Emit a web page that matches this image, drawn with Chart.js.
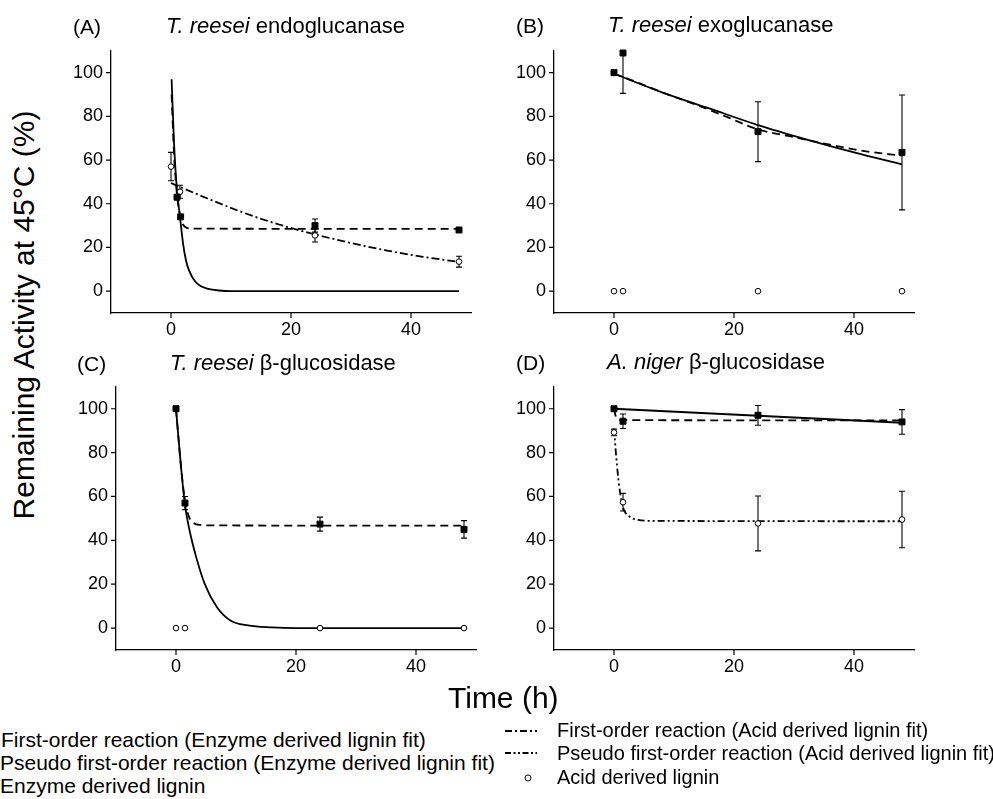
<!DOCTYPE html>
<html><head><meta charset="utf-8">
<script src="https://cdn.jsdelivr.net/npm/chart.js@4.4.0/dist/chart.umd.min.js"></script>
<style>
html,body{margin:0;padding:0;background:#fff;}
#wrap{position:relative;width:993px;height:799px;overflow:hidden;background:#fff;font-family:"Liberation Sans",Arial,sans-serif;color:#000;}
canvas{position:absolute;}
.t{position:absolute;white-space:nowrap;line-height:1;}
</style></head><body>
<div id="wrap">
  <canvas id="cA"></canvas><canvas id="cB"></canvas><canvas id="cC"></canvas><canvas id="cD"></canvas>
  <div class="t" style="left:73px;top:16px;font-size:21px">(A)</div>
  <div class="t" style="left:166px;top:15px;font-size:22px"><i>T. reesei</i> endoglucanase</div>
  <div class="t" style="left:516px;top:15px;font-size:21px">(B)</div>
  <div class="t" style="left:608px;top:14px;font-size:22px"><i>T. reesei</i> exoglucanase</div>
  <div class="t" style="left:77px;top:353px;font-size:21px">(C)</div>
  <div class="t" style="left:170px;top:352px;font-size:22px"><i>T. reesei</i> β-glucosidase</div>
  <div class="t" style="left:516px;top:352px;font-size:21px">(D)</div>
  <div class="t" style="left:607px;top:351px;font-size:22px"><i>A. niger</i> β-glucosidase</div>
  <div class="t" style="left:-186px;top:300px;width:420px;text-align:center;font-size:30px;transform:rotate(-90deg);">Remaining Activity at 45°C (%)</div>
  <div class="t" style="left:448px;top:683px;font-size:30px">Time (h)</div>
  <div class="t" style="left:1px;top:729px;font-size:21px">First-order reaction (Enzyme derived lignin fit)</div>
  <div class="t" style="left:0px;top:752px;font-size:21px">Pseudo first-order reaction (Enzyme derived lignin fit)</div>
  <div class="t" style="left:0px;top:775px;font-size:21px">Enzyme derived lignin</div>
  <svg style="position:absolute;left:500px;top:720px" width="50" height="70">
    <line x1="5" y1="11" x2="37" y2="11" stroke="#000" stroke-width="2" stroke-dasharray="7 3 2 3"/>
    <line x1="5" y1="33" x2="37" y2="33" stroke="#000" stroke-width="2" stroke-dasharray="6 2.5 2 2.5 2 2.5"/>
    <circle cx="28" cy="58" r="3" fill="#fff" stroke="#000" stroke-width="1"/>
  </svg>
  <div class="t" style="left:557px;top:720px;font-size:20px">First-order reaction (Acid derived lignin fit)</div>
  <div class="t" style="left:557px;top:743px;font-size:20px">Pseudo first-order reaction (Acid derived lignin fit)</div>
  <div class="t" style="left:557px;top:767px;font-size:20px">Acid derived lignin</div>
</div>
<script>
// ---------------- data ----------------
const sampleTimes = [0, 1.5, 24, 48];
// Panel A: T. reesei endoglucanase
const aEnzTimes = [1.0, 1.6, 24, 48];
const aEnzValues = [43, 34, 30, 28];
const aEnzErrors = [0, 0, 3, 1];
const aAcidValues = [57, 45.5, 25.5, 13.5];
const aAcidErrors = [6.5, 3, 3, 2.5];
const aFirstEnzT = [0.1, 0.5, 1, 1.5, 2, 2.5, 3, 4, 5, 6, 8, 10, 48];
const aFirstEnzV = [97, 68, 46, 34, 22, 14, 9.5, 4.5, 2.2, 1.2, 0.3, 0, 0];
const aPseudoEnzT = [0.1, 0.5, 1, 1.5, 2, 2.6, 4, 48];
const aPseudoEnzV = [90, 63, 44, 35, 30.5, 29, 28.6, 28.5];
const aFirstAcidT = [0, 1.5, 6, 12, 18, 24, 30, 36, 42, 48];
const aFirstAcidV = [49.5, 47.7, 42.5, 36, 30.5, 26, 22, 18.6, 15.7, 13.4];
// Panel B: T. reesei exoglucanase
const bEnzValues = [100, 109, 73, 63.5];
const bEnzErrors = [0, 18.5, 13.7, 26.3];
const bAcidValues = [0, 0, 0, 0];
const bFirstEnzT = [0, 8, 16, 24, 32, 40, 48];
const bFirstEnzV = [99.5, 91, 83.5, 76, 69.5, 63.5, 58];
const bPseudoEnzT = [0, 3, 8, 14, 19, 24, 30, 36, 42, 48];
const bPseudoEnzV = [99.5, 96.5, 91, 85, 79.5, 74, 70.5, 67, 64, 62];
// Panel C: T. reesei beta-glucosidase
const cEnzValues = [100, 57, 47.4, 45];
const cEnzErrors = [0, 3, 3.2, 4];
const cAcidValues = [0, 0, 0, 0];
const cFirstEnzT = [0, 0.75, 1.5, 2.3, 3.4, 4.8, 6.8, 9, 12, 16, 20, 48];
const cFirstEnzV = [100, 76, 56, 44, 32, 20, 9.6, 3.6, 1.2, 0.3, 0, 0];
const cPseudoEnzT = [0, 0.75, 1.5, 2.2, 3, 4, 6, 48];
const cPseudoEnzV = [100, 76, 58, 50.5, 47.8, 47, 46.8, 46.7];
// Panel D: A. niger beta-glucosidase
const dEnzValues = [100, 94.3, 97, 94];
const dEnzErrors = [0, 3.3, 4.5, 5.6];
const dAcidValues = [89.2, 57.4, 47.7, 49.5];
const dAcidErrors = [1.5, 4, 12.5, 12.9];
const dFirstEnzT = [0, 24, 48];
const dFirstEnzV = [100, 96.8, 93.6];
const dPseudoEnzT = [0, 0.3, 0.7, 1.5, 48];
const dPseudoEnzV = [100, 96.5, 95.1, 94.8, 94.7];
const dPseudoAcidT = [0, 0.5, 1, 1.5, 2.5, 4, 6, 48];
const dPseudoAcidV = [91, 74, 62, 55, 51, 49.3, 48.9, 48.7];
// axis ranges / ticks
const xRange = [-10, 50];
const yRange = [-10, 110];
const xLabelled = [0, 20, 40];
const yLabelled = [0, 20, 40, 60, 80, 100];

// ---------------- helpers ----------------
const pts = (ts, vs) => ts.map((t, i) => ({x: t, y: vs[i]}));
const FONT = '"Liberation Sans", Arial, sans-serif';
const DASH = [8, 5];
const DASHDOT = [8, 3, 2, 3];
const DASHDOTDOT = [7, 3, 2, 3, 2, 3];

function curve(ts, vs, dash) {
  return {type: 'line', data: pts(ts, vs), borderColor: '#000', borderWidth: 1.8, borderDash: dash || [],
    pointRadius: 0, fill: false, cubicInterpolationMode: 'monotone', order: 2, clip: 0};
}
function squares(ts, vs, errs) {
  return {type: 'scatter', data: pts(ts, vs), errorBars: errs || null, pointStyle: 'rect', pointRadius: 4.2,
    backgroundColor: '#000', borderColor: '#000', borderWidth: 1, order: 0, clip: 6};
}
function circles(ts, vs, errs) {
  return {type: 'scatter', data: pts(ts, vs), errorBars: errs || null, pointStyle: 'circle', pointRadius: 2.8,
    backgroundColor: '#fff', borderColor: '#000', borderWidth: 1, order: 1, clip: 6};
}

const axisTicks = {
  id: 'axisTicks',
  afterDraw(chart) {
    const {ctx, chartArea: a} = chart;
    const xs = chart.scales.x, ys = chart.scales.y;
    ctx.save();
    ctx.strokeStyle = '#000'; ctx.lineWidth = 1.2;
    ctx.beginPath();
    xs.ticks.forEach(t => {
      const px = xs.getPixelForValue(t.value);
      const len = xLabelled.includes(t.value) ? 5 : 3;
      ctx.moveTo(px, a.bottom); ctx.lineTo(px, a.bottom + len);
    });
    ys.ticks.forEach(t => {
      const py = ys.getPixelForValue(t.value);
      const len = yLabelled.includes(t.value) ? 5 : 3;
      ctx.moveTo(a.left, py); ctx.lineTo(a.left - len, py);
    });
    ctx.stroke();
    ctx.restore();
  }
};
const errorBars = {
  id: 'errorBars',
  beforeDatasetsDraw(chart) {
    const {ctx, chartArea: a} = chart;
    const ys = chart.scales.y;
    ctx.save();
    ctx.beginPath(); ctx.rect(a.left, a.top, a.right - a.left, a.bottom - a.top); ctx.clip();
    ctx.strokeStyle = '#000'; ctx.lineWidth = 1.1;
    chart.data.datasets.forEach((ds, i) => {
      if (!ds.errorBars) return;
      const meta = chart.getDatasetMeta(i);
      meta.data.forEach((el, j) => {
        const e = ds.errorBars[j];
        if (!e) return;
        const v = ds.data[j].y;
        const y1 = ys.getPixelForValue(v + e), y2 = ys.getPixelForValue(v - e);
        ctx.beginPath();
        ctx.moveTo(el.x, y1); ctx.lineTo(el.x, y2);
        ctx.moveTo(el.x - 3, y1); ctx.lineTo(el.x + 3, y1);
        ctx.moveTo(el.x - 3, y2); ctx.lineTo(el.x + 3, y2);
        ctx.stroke();
      });
    });
    ctx.restore();
  }
};

const YW = 70, XH = 45, PT = 15, PR = 15;
function makePanel(id, left, top, w, h, datasets) {
  const cv = document.getElementById(id);
  cv.width = YW + w + PR; cv.height = PT + h + XH;
  cv.style.left = (left - YW) + 'px'; cv.style.top = (top - PT) + 'px';
  cv.style.width = cv.width + 'px'; cv.style.height = cv.height + 'px';
  new Chart(cv, {
    type: 'scatter',
    data: {datasets},
    options: {
      responsive: false, animation: false, devicePixelRatio: 1,
      layout: {padding: {top: PT, right: PR, left: 0, bottom: 0}},
      plugins: {legend: {display: false}, tooltip: {enabled: false}},
      scales: {
        x: {type: 'linear', min: xRange[0], max: xRange[1],
          afterFit: s => { s.height = XH; },
          grid: {display: false, drawTicks: false},
          border: {display: true, color: '#000', width: 1.3},
          ticks: {stepSize: 10, padding: 6, color: '#000', maxRotation: 0, autoSkip: false,
            font: {family: FONT, size: 18},
            callback: v => xLabelled.includes(v) ? String(v) : null}},
        y: {type: 'linear', min: yRange[0], max: yRange[1],
          afterFit: s => { s.width = YW; },
          grid: {display: false, drawTicks: false},
          border: {display: true, color: '#000', width: 1.3},
          ticks: {stepSize: 10, padding: 8, color: '#000', autoSkip: false,
            font: {family: FONT, size: 18},
            callback: v => yLabelled.includes(v) ? String(v) : null}}
      }
    },
    plugins: [errorBars, axisTicks]
  });
}

makePanel('cA', 111, 47, 360, 266, [
  curve(aFirstEnzT, aFirstEnzV),
  curve(aPseudoEnzT, aPseudoEnzV, DASH),
  curve(aFirstAcidT, aFirstAcidV, DASHDOT),
  circles(sampleTimes, aAcidValues, aAcidErrors),
  squares(aEnzTimes, aEnzValues, aEnzErrors)
]);
makePanel('cB', 554, 47, 360, 266, [
  curve(bFirstEnzT, bFirstEnzV),
  curve(bPseudoEnzT, bPseudoEnzV, DASH),
  circles(sampleTimes, bAcidValues),
  squares(sampleTimes, bEnzValues, bEnzErrors)
]);
makePanel('cC', 116, 383, 360, 267, [
  curve(cFirstEnzT, cFirstEnzV),
  curve(cPseudoEnzT, cPseudoEnzV, DASH),
  circles(sampleTimes, cAcidValues),
  squares(sampleTimes, cEnzValues, cEnzErrors)
]);
makePanel('cD', 554, 383, 360, 267, [
  curve(dFirstEnzT, dFirstEnzV),
  curve(dPseudoEnzT, dPseudoEnzV, DASH),
  curve(dPseudoAcidT, dPseudoAcidV, DASHDOTDOT),
  circles(sampleTimes, dAcidValues, dAcidErrors),
  squares(sampleTimes, dEnzValues, dEnzErrors)
]);
</script>
</body></html>
